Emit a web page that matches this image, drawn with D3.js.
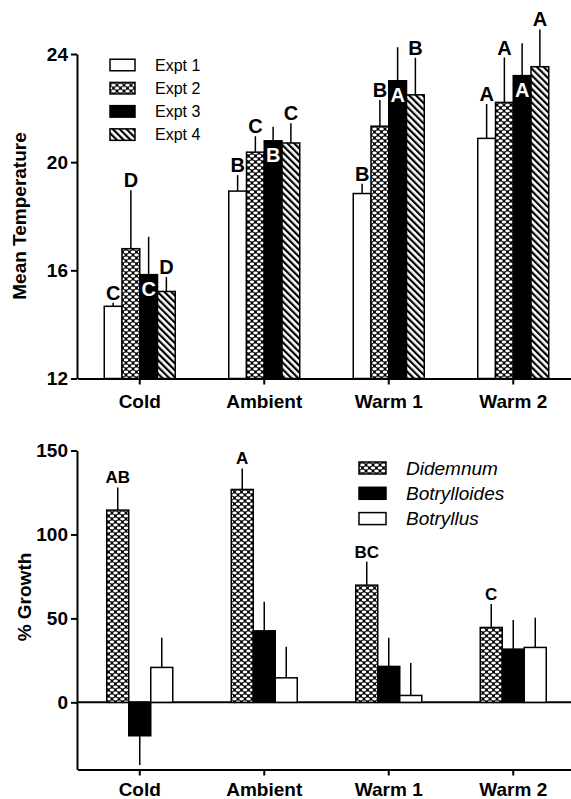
<!DOCTYPE html>
<html>
<head>
<meta charset="utf-8">
<script src="https://cdnjs.cloudflare.com/ajax/libs/d3/7.8.5/d3.min.js"></script>
<style>
body { margin: 0; background: #fff; }
svg { display: block; font-family: "Liberation Sans", Arial, Helvetica, sans-serif; }
.axis path, .axis line { stroke: #000; stroke-width: 2; }
.axis text { font-size: 19px; font-weight: bold; fill: #000; font-family: "Liberation Sans", Arial, sans-serif; }
</style>
</head>
<body>
<svg width="571" height="799"></svg>
<script>

// Top panel: mean temperature per treatment, four experiments
var tempCats = ["Cold", "Ambient", "Warm 1", "Warm 2"];
var tempTicks = [12, 16, 20, 24];
var expts = ["Expt 1", "Expt 2", "Expt 3", "Expt 4"];

var expt1Mean = [14.67, 18.93, 18.84, 20.88];
var expt1Err  = [0.13, 0.59, 0.36, 1.27];
var expt2Mean = [16.8, 20.37, 21.33, 22.21];
var expt2Err  = [2.16, 0.59, 0.97, 1.66];
var expt3Mean = [15.84, 20.79, 23.01, 23.2];
var expt3Err  = [1.4, 0.52, 1.24, 1.2];
var expt4Mean = [15.22, 20.71, 22.49, 23.53];
var expt4Err  = [0.53, 0.73, 1.37, 1.38];

var expt1Letters = ["C", "B", "B", "A"];
var expt2Letters = ["D", "C", "B", "A"];
var expt3Letters = ["C", "B", "A", "A"];
var expt4Letters = ["D", "C", "B", "A"];

// Bottom panel: % growth per species
var growthCats = ["Cold", "Ambient", "Warm 1", "Warm 2"];
var growthTicks = [0, 50, 100, 150];
var species = ["Didemnum", "Botrylloides", "Botryllus"];

var didemnumMean = [114.5, 126.8, 69.8, 44.6];
var didemnumErr  = [13.5, 12.5, 13.9, 13.9];
var botrylloidesMean = [-19.9, 42.6, 21.4, 31.7];
var botrylloidesErr  = [17.4, 17.3, 17, 17.3];
var botryllusMean = [20.8, 14.6, 4.1, 32.7];
var botryllusErr  = [17.7, 18.5, 19.3, 17.7];

var didemnumLetters = ["AB", "A", "BC", "C"];

var svg = d3.select("svg");

/*
 * fill patterns
 */
var defs = svg.append("defs");

var cross = defs.append("pattern")
    .attr("id", "cross")
    .attr("patternUnits", "userSpaceOnUse")
    .attr("width", 7)
    .attr("height", 6);
cross.append("rect").attr("width", 7).attr("height", 6).attr("fill", "#000");
[[0, 0], [7, 0], [0, 6], [7, 6], [3.5, 3]].forEach(function (p) {
  cross.append("ellipse")
    .attr("cx", p[0]).attr("cy", p[1])
    .attr("rx", 2.3).attr("ry", 1.4)
    .attr("fill", "#fff");
});

var hatch = defs.append("pattern")
    .attr("id", "hatch")
    .attr("patternUnits", "userSpaceOnUse")
    .attr("width", 4.8)
    .attr("height", 4.8)
    .attr("patternTransform", "rotate(-45)");
hatch.append("rect").attr("width", 4.8).attr("height", 4.8).attr("fill", "#fff");
hatch.append("rect").attr("width", 2.2).attr("height", 4.8).attr("fill", "#000");

/*
 * one bar panel
 */
function panel(opt) {
  var x0 = d3.scaleBand()
    .domain(opt.cats)
    .range([77.5, 575.5]);

  var x1 = d3.scaleBand()
    .domain(opt.series.map(function (s) { return s.name; }))
    .range([(x0.bandwidth() - opt.groupWidth) / 2, (x0.bandwidth() + opt.groupWidth) / 2]);

  var y = opt.y;
  var base = Math.max(y.domain()[0], 0);
  var g = svg.append("g");

  // zero line when the domain crosses zero
  if (y.domain()[0] < 0) {
    g.append("line")
      .attr("x1", 77).attr("x2", 571)
      .attr("y1", y(0)).attr("y2", y(0))
      .attr("stroke", "#000").attr("stroke-width", 2);
  }

  var rows = [];
  opt.series.forEach(function (s) {
    s.mean.forEach(function (m, i) {
      rows.push({ series: s, cat: opt.cats[i], mean: m, err: s.err[i],
                  letter: s.letters ? s.letters[i] : null });
    });
  });

  function bx(d) { return x0(d.cat) + x1(d.series.name); }
  function tip(d) { return d.mean >= 0 ? d.mean + d.err : d.mean - d.err; }

  // error bars (drawn first, bars cover their base)
  g.selectAll("line.err")
    .data(rows)
    .enter().append("line")
      .attr("class", "err")
      .attr("x1", function (d) { return bx(d) + x1.bandwidth() / 2; })
      .attr("x2", function (d) { return bx(d) + x1.bandwidth() / 2; })
      .attr("y1", function (d) { return y(d.mean); })
      .attr("y2", function (d) { return y(tip(d)); })
      .attr("stroke", "#000")
      .attr("stroke-width", 1.5);

  g.selectAll("rect.bar")
    .data(rows)
    .enter().append("rect")
      .attr("class", "bar")
      .attr("x", function (d) { return bx(d); })
      .attr("width", x1.bandwidth())
      .attr("y", function (d) { return Math.min(y(d.mean), y(base)); })
      .attr("height", function (d) { return Math.abs(y(d.mean) - y(base)); })
      .attr("fill", function (d) { return d.series.fill; })
      .attr("stroke", "#000")
      .attr("stroke-width", 1.5);

  // significance letters
  g.selectAll("text.letter")
    .data(rows.filter(function (d) { return d.letter; }))
    .enter().append("text")
      .attr("class", "letter")
      .attr("x", function (d) { return bx(d) + x1.bandwidth() / 2; })
      .attr("y", function (d) {
        return d.series.inside ? y(d.mean) + 21 : y(tip(d)) - opt.letterGap;
      })
      .attr("text-anchor", "middle")
      .attr("font-size", opt.letterSize)
      .attr("font-weight", "bold")
      .attr("fill", function (d) { return d.series.inside ? "#fff" : "#000"; })
      .attr("stroke", function (d) { return d.series.inside ? "#000" : "none"; })
      .attr("stroke-width", 1.2)
      .attr("paint-order", "stroke")
      .text(function (d) { return d.letter; });

  // axes
  svg.append("g")
      .attr("class", "axis")
      .attr("transform", "translate(0," + y.range()[0] + ")")
    .call(d3.axisBottom(x0).tickSize(6).tickSizeOuter(0).tickPadding(opt.catPad));

  svg.append("g")
      .attr("class", "axis")
      .attr("transform", "translate(77,0)")
    .call(d3.axisLeft(y).tickValues(opt.ticks).tickSize(6).tickSizeOuter(0).tickPadding(3));

  svg.append("text")
    .attr("transform", "translate(" + opt.titleX + "," + opt.titleY + ") rotate(-90)")
    .attr("text-anchor", "middle")
    .attr("font-size", 19)
    .attr("font-weight", "bold")
    .text(opt.title);

  // legend
  var leg = svg.append("g")
    .selectAll("g")
    .data(opt.series)
    .enter().append("g")
      .attr("transform", function (d, i) {
        return "translate(" + opt.legend.x + "," + (opt.legend.y + i * opt.legend.step) + ")";
      });

  leg.append("rect")
    .attr("x", 0)
    .attr("y", -opt.legend.h / 2)
    .attr("width", opt.legend.w)
    .attr("height", opt.legend.h)
    .attr("fill", function (d) { return d.fill; })
    .attr("stroke", "#000")
    .attr("stroke-width", 1.5);

  leg.append("text")
    .attr("x", opt.legend.textX)
    .attr("dy", "0.36em")
    .attr("font-size", opt.legend.size)
    .attr("font-style", opt.legend.italic ? "italic" : "normal")
    .text(function (d) { return d.name; });
}

panel({
  cats: tempCats,
  ticks: tempTicks,
  y: d3.scaleLinear().domain([12, 24]).range([378.5, 54]),
  groupWidth: 71,
  letterSize: 20,
  letterGap: 3,
  catPad: 10,
  title: "Mean Temperature",
  titleX: 26, titleY: 216,
  series: [
    { name: expts[0], mean: expt1Mean, err: expt1Err, letters: expt1Letters, fill: "#fff" },
    { name: expts[1], mean: expt2Mean, err: expt2Err, letters: expt2Letters, fill: "url(#cross)" },
    { name: expts[2], mean: expt3Mean, err: expt3Err, letters: expt3Letters, fill: "#000", inside: true },
    { name: expts[3], mean: expt4Mean, err: expt4Err, letters: expt4Letters, fill: "url(#hatch)" }
  ],
  legend: { x: 110, y: 65, step: 23.2, w: 25, h: 11.5, textX: 45, size: 16, italic: false }
});

panel({
  cats: growthCats,
  ticks: growthTicks,
  y: d3.scaleLinear().domain([-40, 150]).range([769.5, 450.5]),
  groupWidth: 66,
  letterSize: 17,
  letterGap: 4,
  catPad: 7,
  title: "% Growth",
  titleX: 31, titleY: 597,
  series: [
    { name: species[0], mean: didemnumMean, err: didemnumErr, letters: didemnumLetters, fill: "url(#cross)" },
    { name: species[1], mean: botrylloidesMean, err: botrylloidesErr, fill: "#000" },
    { name: species[2], mean: botryllusMean, err: botryllusErr, fill: "#fff" }
  ],
  legend: { x: 359, y: 468, step: 25.3, w: 27, h: 12, textX: 47, size: 19, italic: true }
});

</script>
</body>
</html>
